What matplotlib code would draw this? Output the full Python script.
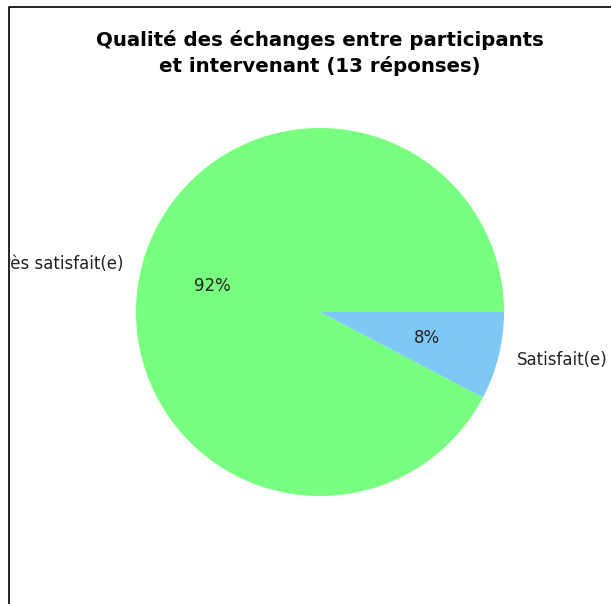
import matplotlib
matplotlib.use("Agg")
import matplotlib.pyplot as plt
from matplotlib.lines import Line2D
from matplotlib.transforms import Bbox, TransformedBbox

categories = ["Très satisfait(e)", "Satisfait(e)"]
values = [12, 1]
colors = ["#77ff80", "#7dc8f5"]
title = "Qualité des échanges entre participants\net intervenant (13 réponses)"

W, H = 611, 604
fig = plt.figure(figsize=(W / 100, H / 100), dpi=100)
fig.patch.set_facecolor("white")

cx, cy, r = 320, 604 - 312, 184
half = r * 1.25
ax = fig.add_axes([(cx - half) / W, (cy - half) / H, 2 * half / W, 2 * half / H])
wedges, texts, autotexts = ax.pie(values, labels=categories, colors=colors,
                                  autopct="%1.0f%%", startangle=0,
                                  textprops={"fontsize": 12, "color": "#222222"})

clip = TransformedBbox(Bbox([[10 / W, 0], [1, 1 - 8 / H]]), fig.transFigure)
for t in list(texts) + list(autotexts):
    t.set_clip_on(True)
    t.set_clip_box(clip)

fig.text(cx / W, 1 - 53 / H, title, ha="center", va="center",
         fontsize=14.2, fontweight="bold", linespacing=1.33)

x0 = 9 / W
y0 = 1 - 7 / H
fig.add_artist(Line2D([x0, x0, 1.01], [-0.01, y0, y0], transform=fig.transFigure,
                      color="black", lw=1.2))

fig.savefig("out.png", dpi=100)
